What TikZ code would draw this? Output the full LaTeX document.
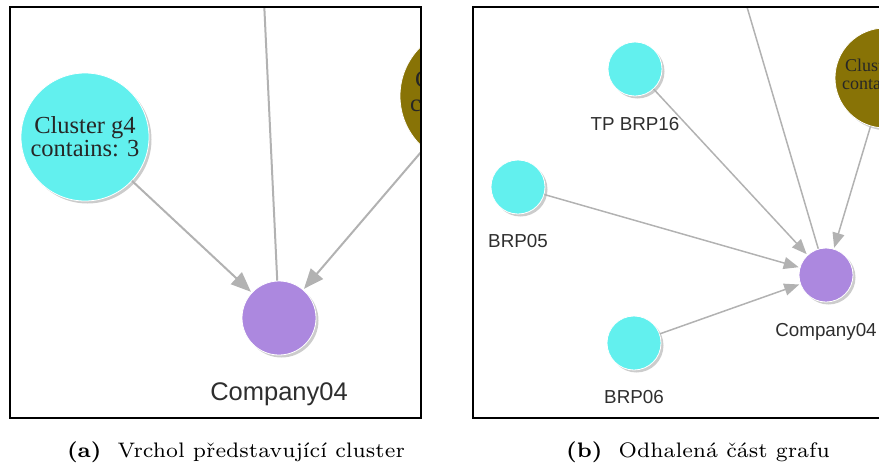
\documentclass[tikz,border=0pt]{standalone}
\usepackage{fontspec}
\newfontfamily\labelfont{Liberation Sans}
\newfontfamily\clusterfont{Liberation Serif}
\newfontfamily\capfont[Extension=.otf, UprightFont=*-regular, BoldFont=*-bold]{lmroman7}
\usetikzlibrary{arrows.meta,shadows}

\definecolor{nodecyan}{HTML}{62F0EE}
\definecolor{nodepurple}{HTML}{AC88DF}
\definecolor{nodeolive}{HTML}{887306}
\definecolor{edgegray}{HTML}{B2B2B2}
\definecolor{labelgray}{HTML}{2E2E2E}

\tikzset{
  frame/.style={draw=black, line width=2pt},
  vertex/.style={circle, inner sep=0pt, draw=white, line width=0.8pt,
    drop shadow={shadow xshift=2.5pt, shadow yshift=-2.5pt, opacity=0.2, fill=black}},
  vlabelA/.style={anchor=base, text=labelgray, font=\labelfont\fontsize{25.5}{28}\selectfont},
  vlabelB/.style={anchor=base, text=labelgray, font=\labelfont\fontsize{18.8}{21}\selectfont},
  edgeA/.style={draw=edgegray, line width=2pt},
  edgeB/.style={draw=edgegray, line width=1.5pt},
  arrA/.style={edgeA, -{Triangle[length=20pt, width=16pt]}, shorten >=1pt},
  arrB/.style={edgeB, -{Triangle[length=15pt, width=12pt]}, shorten >=1pt},
  captext/.style={anchor=base, font=\capfont\fontsize{21}{24}\selectfont},
}

\begin{document}
\begin{tikzpicture}[x=1pt, y=-1pt]
\useasboundingbox (0,0) rectangle (879,464);

% ---- left panel: a cluster vertex ----
\begin{scope}
  \clip (10,7) rectangle (421,418);
  \node[vertex, fill=nodecyan, minimum size=128pt, align=center, text=black!85,
        font=\clusterfont\fontsize{24.5}{23}\selectfont] (gA) at (85,137)
        {Cluster g4\\contains: 3};
  \node[vertex, fill=nodeolive, minimum size=138pt] (oA) at (469,96) {};
  \node[anchor=mid west, inner sep=0pt, text=black!85,
        font=\clusterfont\fontsize{24.5}{23}\selectfont] (oAa) at (415,85) {Cluster};
  \node[anchor=mid west, inner sep=0pt, text=black!85,
        font=\clusterfont\fontsize{24.5}{23}\selectfont] (oAb) at (410,109) {contains:};
  \node[vertex, fill=nodepurple, minimum size=74pt] (pA) at (279,318) {};
  \coordinate (topA) at (263.5,-10);
  \draw[edgeA] (topA) -- (pA);
  \draw[arrA] (gA) -- (pA);
  \draw[arrA] (oA) -- (pA);
  \node[vlabelA] (lA) at (279,400) {Company04};
\end{scope}
\draw[frame] (10,7) rectangle (421,418);

% ---- right panel: revealed part of the graph ----
\begin{scope}
  \clip (473,7) rectangle (879,418);
  \node[vertex, fill=nodeolive, minimum size=100pt] (oB) at (885,78) {};
  \node[anchor=mid west, inner sep=0pt, text=black!85,
        font=\clusterfont\fontsize{18}{18}\selectfont] (oBa) at (845,69) {Cluster};
  \node[anchor=mid west, inner sep=0pt, text=black!85,
        font=\clusterfont\fontsize{18}{18}\selectfont] (oBb) at (842,87) {contains:};
  \node[vertex, fill=nodecyan, minimum size=54pt] (t16) at (635,69) {};
  \node[vertex, fill=nodecyan, minimum size=54pt] (b05) at (518,187) {};
  \node[vertex, fill=nodecyan, minimum size=54pt] (b06) at (634,343) {};
  \node[vertex, fill=nodepurple, minimum size=54pt] (pB) at (826,275) {};
  \coordinate (topB) at (742,-10);
  \draw[edgeB] (topB) -- (pB);
  \draw[arrB] (t16) -- (pB);
  \draw[arrB] (b05) -- (pB);
  \draw[arrB] (b06) -- (pB);
  \draw[arrB] (oB) -- (pB);
  \node[vlabelB] (lt16) at (635,130) {TP BRP16};
  \node[vlabelB] (lb05) at (518,247) {BRP05};
  \node[vlabelB] (lb06) at (634,403) {BRP06};
  \node[vlabelB] (lpB) at (826,336) {Company04};
\end{scope}
\draw[frame] (879,7) -- (473,7) -- (473,418) -- (879,418);

% ---- captions ----
\node[captext] (capA) at (236,457) {\textbf{(a)}\ \ Vrchol představující cluster};
\node[captext] (capB) at (698,457) {\textbf{(b)}\ \ Odhalená část grafu};
\end{tikzpicture}
\end{document}
